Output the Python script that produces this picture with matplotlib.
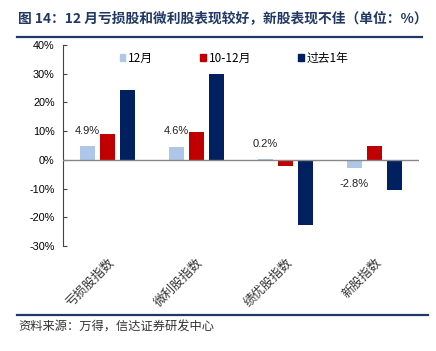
import matplotlib
matplotlib.use("Agg")
import matplotlib.pyplot as plt
from matplotlib.lines import Line2D
from matplotlib.patches import Patch
import numpy as np

plt.rcParams['font.family'] = ['Noto Sans CJK SC', 'DejaVu Sans']

categories = ['亏损股指数', '微利股指数', '绩优股指数', '新股指数']
series_names = ['12月', '10-12月', '过去1年']
dec_vals = [4.9, 4.6, 0.2, -2.8]
q4_vals = [9.0, 9.7, -2.3, 4.9]
year_vals = [24.3, 29.9, -22.6, -10.4]
yticks = [-30, -20, -10, 0, 10, 20, 30, 40]
colors = ['#AEC7E8', '#C00000', '#002060']
title = '图 14：12 月亏损股和微利股表现较好，新股表现不佳（单位：%）'
source = '资料来源：万得，信达证券研发中心'

W, H = 436, 351
fig = plt.figure(figsize=(W / 100, H / 100), dpi=100)
ax = fig.add_axes([63 / W, 1 - 246 / H, (419 - 63) / W, (246 - 45) / H])

x = np.arange(len(categories))
bw = 0.17
step = 0.225
all_vals = [dec_vals, q4_vals, year_vals]
for i, (vals, c) in enumerate(zip(all_vals, colors)):
    ax.bar(x + (i - 1) * step, vals, width=bw, color=c, label=series_names[i], zorder=2)

for xi, v in zip(x, dec_vals):
    off = 11.0 if v >= 0 else -11.5
    ax.annotate(f'{v:.1f}%', (xi - step, v), xytext=(0, off), textcoords='offset points',
                ha='center', va='center', fontsize=8, family=['Liberation Sans', 'DejaVu Sans'],
                color='#222222')

ax.set_xlim(-0.5, len(categories) - 0.5)
ax.set_ylim(-30, 40)
ax.set_yticks(yticks)
ax.set_yticklabels([f'{t}%' for t in yticks], family=['Liberation Sans', 'DejaVu Sans'], fontsize=7.8)
ax.tick_params(axis='y', direction='in', length=3, width=0.8, color='#444444', pad=6)
ax.axhline(0, color='#888888', lw=1.0, zorder=3)
ax.set_xticks(x)
ax.set_xticklabels(categories, rotation=45, ha='right', rotation_mode='anchor', fontsize=9, color='#333333')
ax.tick_params(axis='x', length=0, pad=7)
for s in ['top', 'right', 'bottom']:
    ax.spines[s].set_visible(False)
ax.spines['left'].set_color('#444444')
ax.spines['left'].set_linewidth(0.8)

handles = [Patch(color=c) for c in colors]
leg = ax.legend(handles, series_names, loc='center left',
                bbox_to_anchor=((120 - 63) / (419 - 63), 1 - (58 - 45) / (246 - 45)),
                ncol=3, frameon=False, fontsize=8.5, handlelength=0.45, handleheight=0.6,
                handletextpad=0.25, columnspacing=4.0, borderaxespad=0, borderpad=0)

navy = '#1F3864'
fig.text(18 / W, 1 - 18 / H, title, fontsize=9.9, fontweight='bold', color=navy, va='center', ha='left')
fig.add_artist(Line2D([17 / W, 422 / W], [1 - 37 / H, 1 - 37 / H], color=navy, lw=1.6))
fig.add_artist(Line2D([17 / W, 428 / W], [1 - 315 / H, 1 - 315 / H], color=navy, lw=1.6))
fig.text(18 / W, 1 - 327 / H, source, fontsize=8.8, color='#333333', va='center', ha='left', style='italic')

fig.savefig('out.png', dpi=100)
